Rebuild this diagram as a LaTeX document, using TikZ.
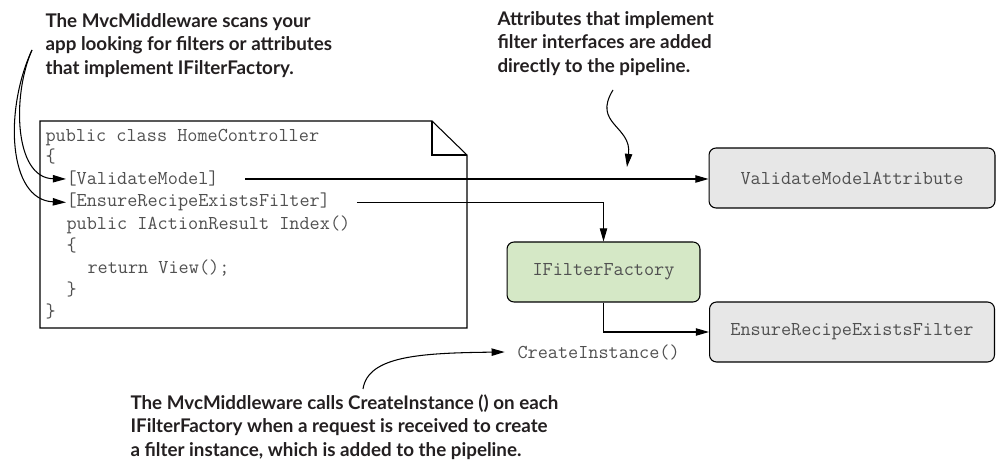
\documentclass[tikz,border=0pt]{standalone}
\usepackage{fontspec}
\usetikzlibrary{arrows.meta}
\newfontfamily\notefont{Lato}
\definecolor{notetext}{RGB}{35,31,32}
\definecolor{codetext}{RGB}{80,80,80}
\definecolor{boxgray}{RGB}{231,231,231}
\definecolor{boxgreen}{RGB}{213,232,198}
\tikzset{
  note/.style={anchor=north west,align=left,inner sep=0pt,text=notetext,
    font=\notefont\bfseries\fontsize{10.7}{13.3}\selectfont},
  code/.style={anchor=base west,inner sep=0pt,text=codetext,
    font=\ttfamily\fontsize{11.2}{12}\selectfont},
  filterbox/.style={draw,rounded corners=4pt,fill=boxgray,text=codetext,
    font=\ttfamily\fontsize{11.2}{12}\selectfont,minimum height=1.2cm}
}
\begin{document}
\begin{tikzpicture}[x=0.02cm,y=-0.02cm,>={Triangle[length=7.5pt,width=4.2pt]},line width=0.6pt]
  \useasboundingbox (0,0) rectangle (996,472);
  \draw (40,121) -- (432,121) -- (467,155) -- (467,328) -- (40,328) -- cycle;
  \draw (432,121) -- (432,155) -- (467,155);
  \node[code] (c1) at (45,142) {public class HomeController};
  \node[code] (c2) at (45,163) {\{};
  \node[code] (vm) at (66,185) {[ValidateModel]};
  \node[code] (ef) at (66,207) {[EnsureRecipeExistsFilter]};
  \node[code] (c5) at (66,230) {public IActionResult Index()};
  \node[code] (c6) at (66,252) {\{};
  \node[code] (c7) at (87,274) {return View();};
  \node[code] (c8) at (66,296) {\}};
  \node[code] (c9) at (45,318) {\}};
  \node[filterbox,minimum width=5.72cm] (vattr) at (852,178) {ValidateModelAttribute};
  \node[filterbox,fill=boxgreen,minimum width=3.86cm] (ifac) at (603.5,272) {IFilterFactory};
  \node[filterbox,minimum width=5.7cm] (erf) at (852,332) {EnsureRecipeExistsFilter};
  \node[code,anchor=west] (ci) at (517,352) {CreateInstance()};
  \draw[->] ([xshift=15pt]vm.east) -- (vm.east -| vattr.west);
  \draw[->] ([xshift=15pt]ef.east) -| (ifac.north);
  \draw[->] (ifac.south) |- (erf.west);
  \node[note] (scan) at (45,13) {The MvcMiddleware scans your\\app looking for filters or attributes\\that implement IFilterFactory.};
  \node[note] (attr) at (497,11) {Attributes that implement\\filter interfaces are added\\directly to the pipeline.};
  \node[note] (calls) at (130,394) {The MvcMiddleware calls CreateInstance () on each\\IFilterFactory when a request is received to create\\a filter instance, which is added to the pipeline.};
  \coordinate (scanfoot) at (32,50);
  \draw[->] (scanfoot) .. controls (12,95) and (14,178) .. (vm.west);
  \draw[->] (scanfoot) .. controls (4,110) and (8,200) .. (ef.west);
  \coordinate (attrfoot) at (613,90);
  \coordinate (attrtip) at (627,167);
  \draw[->] (attrfoot) .. controls (592,124) and (632,126) .. (attrtip);
  \coordinate (callsfoot) at (363,389);
  \draw[->] (callsfoot) .. controls (368,356) and (420,353) .. ([xshift=-7pt]ci.west);
\end{tikzpicture}
\end{document}
